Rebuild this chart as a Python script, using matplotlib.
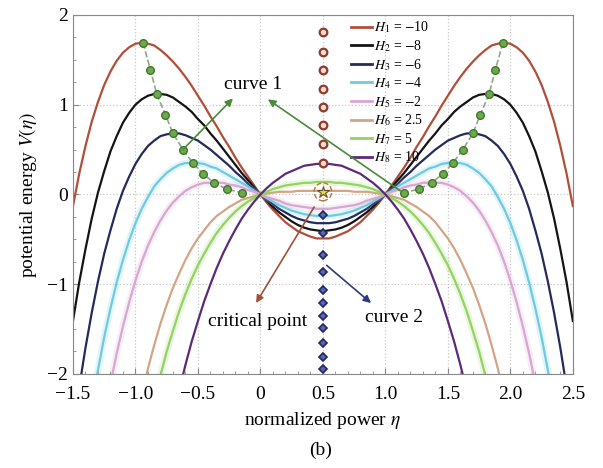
import matplotlib
matplotlib.use("Agg")
import matplotlib.pyplot as plt
from matplotlib.lines import Line2D
from matplotlib.patches import Ellipse

plt.rcParams['font.family'] = ['Liberation Serif', 'DejaVu Serif']
plt.rcParams['mathtext.fontset'] = 'stix'

# normalized power grid
eta = [-1.50, -1.45, -1.40, -1.35, -1.30, -1.25, -1.20, -1.15, -1.10, -1.05,
       -1.00, -0.95, -0.90, -0.85, -0.80, -0.75, -0.70, -0.65, -0.60, -0.55,
       -0.50, -0.45, -0.40, -0.35, -0.30, -0.25, -0.20, -0.15, -0.10, -0.05,
       0.00, 0.05, 0.10, 0.15, 0.20, 0.25, 0.30, 0.35, 0.40, 0.45,
       0.50,
       0.55, 0.60, 0.65, 0.70, 0.75, 0.80, 0.85, 0.90, 0.95, 1.00,
       1.05, 1.10, 1.15, 1.20, 1.25, 1.30, 1.35, 1.40, 1.45, 1.50,
       1.55, 1.60, 1.65, 1.70, 1.75, 1.80, 1.85, 1.90, 1.95, 2.00,
       2.05, 2.10, 2.15, 2.20, 2.25, 2.30, 2.35, 2.40, 2.45, 2.50]

# potential energy V(eta) for each H
v_h1 = [-0.13, 0.23, 0.54, 0.81, 1.03, 1.22, 1.37, 1.49, 1.58, 1.64,
        1.68, 1.69, 1.68, 1.66, 1.61, 1.55, 1.48, 1.40, 1.31, 1.21,
        1.10, 0.99, 0.87, 0.76, 0.64, 0.53, 0.41, 0.30, 0.20, 0.10,
        0.00, -0.09, -0.17, -0.24, -0.31, -0.36, -0.41, -0.44, -0.47, -0.49,
        -0.49,
        -0.49, -0.47, -0.44, -0.41, -0.36, -0.31, -0.24, -0.17, -0.09, 0.00,
        0.10, 0.20, 0.30, 0.41, 0.53, 0.64, 0.76, 0.87, 0.99, 1.10,
        1.21, 1.31, 1.40, 1.48, 1.55, 1.61, 1.66, 1.68, 1.69, 1.68,
        1.64, 1.58, 1.49, 1.37, 1.22, 1.03, 0.81, 0.54, 0.23, -0.13]
v_h2 = [-1.41, -0.98, -0.61, -0.27, 0.02, 0.26, 0.48, 0.65, 0.80, 0.91,
        1.00, 1.06, 1.10, 1.12, 1.12, 1.11, 1.08, 1.03, 0.98, 0.92,
        0.84, 0.77, 0.68, 0.60, 0.51, 0.42, 0.33, 0.24, 0.16, 0.08,
        0.00, -0.07, -0.14, -0.20, -0.25, -0.30, -0.34, -0.37, -0.39, -0.40,
        -0.41,
        -0.40, -0.39, -0.37, -0.34, -0.30, -0.25, -0.20, -0.14, -0.07, 0.00,
        0.08, 0.16, 0.24, 0.33, 0.42, 0.51, 0.60, 0.68, 0.77, 0.84,
        0.92, 0.98, 1.03, 1.08, 1.11, 1.12, 1.12, 1.10, 1.06, 1.00,
        0.91, 0.80, 0.65, 0.48, 0.26, 0.02, -0.27, -0.61, -0.98, -1.41]
v_h3 = [-2.64, -2.15, -1.71, -1.32, -0.97, -0.66, -0.40, -0.16, 0.04, 0.20,
        0.34, 0.45, 0.54, 0.60, 0.65, 0.67, 0.68, 0.68, 0.66, 0.63,
        0.60, 0.55, 0.50, 0.44, 0.38, 0.32, 0.25, 0.19, 0.12, 0.06,
        0.00, -0.06, -0.11, -0.16, -0.20, -0.24, -0.27, -0.29, -0.31, -0.32,
        -0.32,
        -0.32, -0.31, -0.29, -0.27, -0.24, -0.20, -0.16, -0.11, -0.06, 0.00,
        0.06, 0.12, 0.19, 0.25, 0.32, 0.38, 0.44, 0.50, 0.55, 0.60,
        0.63, 0.66, 0.68, 0.68, 0.67, 0.65, 0.60, 0.54, 0.45, 0.34,
        0.20, 0.04, -0.16, -0.40, -0.66, -0.97, -1.32, -1.71, -2.15, -2.64]
v_h4 = [-3.88, -3.33, -2.82, -2.37, -1.96, -1.59, -1.27, -0.98, -0.73, -0.51,
        -0.32, -0.16, -0.03, 0.09, 0.17, 0.24, 0.29, 0.33, 0.35, 0.35,
        0.35, 0.34, 0.31, 0.29, 0.25, 0.21, 0.17, 0.13, 0.09, 0.04,
        0.00, -0.04, -0.08, -0.12, -0.15, -0.18, -0.20, -0.22, -0.23, -0.24,
        -0.24,
        -0.24, -0.23, -0.22, -0.20, -0.18, -0.15, -0.12, -0.08, -0.04, 0.00,
        0.04, 0.09, 0.13, 0.17, 0.21, 0.25, 0.29, 0.31, 0.34, 0.35,
        0.35, 0.35, 0.33, 0.29, 0.24, 0.17, 0.09, -0.03, -0.16, -0.32,
        -0.51, -0.73, -0.98, -1.27, -1.59, -1.96, -2.37, -2.82, -3.33, -3.88]
v_h5 = [-5.08, -4.46, -3.90, -3.38, -2.92, -2.49, -2.11, -1.77, -1.47, -1.20,
        -0.96, -0.75, -0.57, -0.42, -0.29, -0.18, -0.09, -0.02, 0.04, 0.08,
        0.11, 0.13, 0.13, 0.13, 0.13, 0.11, 0.10, 0.08, 0.05, 0.03,
        0.00, -0.03, -0.05, -0.07, -0.10, -0.12, -0.13, -0.14, -0.15, -0.16,
        -0.16,
        -0.16, -0.15, -0.14, -0.13, -0.12, -0.10, -0.07, -0.05, -0.03, 0.00,
        0.03, 0.05, 0.08, 0.10, 0.11, 0.13, 0.13, 0.13, 0.13, 0.11,
        0.08, 0.04, -0.02, -0.09, -0.18, -0.29, -0.42, -0.57, -0.75, -0.96,
        -1.20, -1.47, -1.77, -2.11, -2.49, -2.92, -3.38, -3.90, -4.46, -5.08]
v_h6 = [-8.08, -7.31, -6.59, -5.92, -5.31, -4.74, -4.22, -3.75, -3.32, -2.92,
        -2.56, -2.24, -1.94, -1.68, -1.44, -1.23, -1.04, -0.88, -0.73, -0.60,
        -0.49, -0.40, -0.31, -0.24, -0.19, -0.14, -0.10, -0.06, -0.04, -0.02,
        0.00, 0.01, 0.02, 0.03, 0.03, 0.03, 0.04, 0.04, 0.04, 0.04,
        0.04,
        0.04, 0.04, 0.04, 0.04, 0.03, 0.03, 0.03, 0.02, 0.01, 0.00,
        -0.02, -0.04, -0.06, -0.10, -0.14, -0.19, -0.24, -0.31, -0.40, -0.49,
        -0.60, -0.73, -0.88, -1.04, -1.23, -1.44, -1.68, -1.94, -2.24, -2.56,
        -2.92, -3.32, -3.75, -4.22, -4.74, -5.31, -5.92, -6.59, -7.31, -8.08]
v_h7 = [-9.58, -8.73, -7.93, -7.19, -6.50, -5.87, -5.28, -4.74, -4.24, -3.78,
        -3.36, -2.98, -2.63, -2.31, -2.02, -1.75, -1.52, -1.30, -1.11, -0.94,
        -0.79, -0.66, -0.54, -0.43, -0.34, -0.26, -0.19, -0.13, -0.08, -0.04,
        0.00, 0.03, 0.06, 0.08, 0.10, 0.11, 0.12, 0.13, 0.13, 0.14,
        0.14,
        0.14, 0.13, 0.13, 0.12, 0.11, 0.10, 0.08, 0.06, 0.03, 0.00,
        -0.04, -0.08, -0.13, -0.19, -0.26, -0.34, -0.43, -0.54, -0.66, -0.79,
        -0.94, -1.11, -1.30, -1.52, -1.75, -2.02, -2.31, -2.63, -2.98, -3.36,
        -3.78, -4.24, -4.74, -5.28, -5.87, -6.50, -7.19, -7.93, -8.73, -9.58]
v_h8 = [-12.66, -11.64, -10.69, -9.79, -8.96, -8.17, -7.45, -6.77, -6.13, -5.55,
        -5.00, -4.50, -4.03, -3.60, -3.20, -2.83, -2.49, -2.18, -1.90, -1.64,
        -1.41, -1.19, -1.00, -0.82, -0.66, -0.52, -0.39, -0.27, -0.17, -0.08,
        0.00, 0.07, 0.13, 0.18, 0.23, 0.26, 0.29, 0.32, 0.33, 0.34,
        0.34,
        0.34, 0.33, 0.32, 0.29, 0.26, 0.23, 0.18, 0.13, 0.07, 0.00,
        -0.08, -0.17, -0.27, -0.39, -0.52, -0.66, -0.82, -1.00, -1.19, -1.41,
        -1.64, -1.90, -2.18, -2.49, -2.83, -3.20, -3.60, -4.03, -4.50, -5.00,
        -5.55, -6.13, -6.77, -7.45, -8.17, -8.96, -9.79, -10.69, -11.64, -12.66]

labels = [r'$H_1$ = $-$10', r'$H_2$ = $-$8', r'$H_3$ = $-$6', r'$H_4$ = $-$4',
          r'$H_5$ = $-$2', r'$H_6$ = 2.5', r'$H_7$ = 5', r'$H_8$ = 10']
colors = ['#b14e3a', '#141414', '#252a5c', '#6ccbe0',
          '#d8a6d0', '#d4a484', '#93d35f', '#5c2a78']

# curve 1: maxima of the potential (left and right branches)
peak_eta_l = [-0.94, -0.88, -0.83, -0.76, -0.70, -0.62, -0.54, -0.46, -0.37, -0.27, -0.15]
peak_eta_r = [1.94, 1.88, 1.83, 1.76, 1.70, 1.62, 1.54, 1.46, 1.37, 1.27, 1.15]
peak_v = [1.69, 1.39, 1.12, 0.89, 0.68, 0.50, 0.35, 0.23, 0.13, 0.06, 0.02]

# values at eta = 0.5
top_v = [0.35, 0.56, 0.77, 0.98, 1.18, 1.39, 1.59, 1.81]
curve2_v = [-0.23, -0.43, -0.67, -0.86, -1.06, -1.21, -1.36, -1.49, -1.66, -1.81, -1.94]
crit_eta, crit_v = 0.5, 0.03

fig = plt.figure(figsize=(6.03, 4.68), dpi=100)
fig.subplots_adjust(left=0.121, right=0.950, top=0.968, bottom=0.201)
ax = fig.add_subplot(111)

series = [v_h1, v_h2, v_h3, v_h4, v_h5, v_h6, v_h7, v_h8]
for v, c in zip(series, colors):
    if c in ('#6ccbe0', '#93d35f', '#d8a6d0'):
        # soft halo on the light colours
        ax.plot(eta, v, color=c, lw=5, alpha=0.18, solid_capstyle='round')
    ax.plot(eta, v, color=c, lw=1.6)

# locus of maxima
for pe in (peak_eta_l, peak_eta_r):
    ax.plot(pe, peak_v, ls='--', color='#8fa88a', lw=1.2, zorder=4)
    ax.plot(pe, peak_v, ls='none', marker='o', ms=5.5, mfc='#6fa84c',
            mec='#3d7a2a', mew=1.0, zorder=5)

# markers along eta = 0.5
ax.plot([0.5] * len(top_v), top_v, ls='none', marker='o', ms=5.5,
        mfc='#f3ddd3', mec='#8e3b2c', mew=1.6, zorder=5)
ax.plot([0.5] * len(curve2_v), curve2_v, ls='none', marker='D', ms=4,
        mfc='#5a68b0', mec='#1f2766', mew=1.2, zorder=5)

# critical point
ax.plot([crit_eta], [crit_v], marker='*', ms=9, mfc='#e8d040', mec='#6a5020',
        mew=0.8, zorder=6)
ax.add_patch(Ellipse((crit_eta, crit_v), 0.14, 0.2, fill=False,
                     ec='#c0703a', ls='--', lw=1.0, zorder=6))

# annotations
arrow = dict(arrowstyle='-|>', lw=1.2, mutation_scale=11, shrinkA=0, shrinkB=0)
ax.annotate('', xy=(-0.22, 1.07), xytext=(-0.62, 0.50),
            arrowprops=dict(arrow, color='#4a8a3a'), zorder=7)
ax.annotate('', xy=(0.06, 1.06), xytext=(1.12, 0.04),
            arrowprops=dict(arrow, color='#4a8a3a'), zorder=7)
ax.text(-0.06, 1.23, 'curve 1', fontsize=14, ha='center', va='center')

ax.annotate('', xy=(-0.035, -1.21), xytext=(0.43, -0.14),
            arrowprops=dict(arrow, color='#a0503a'), zorder=7)
ax.text(-0.02, -1.42, 'critical point', fontsize=14, ha='center', va='center')

ax.annotate('', xy=(0.885, -1.21), xytext=(0.53, -0.79),
            arrowprops=dict(arrow, color='#2a3a7a'), zorder=7)
ax.text(1.07, -1.37, 'curve 2', fontsize=14, ha='center', va='center')

ax.set_xlim(-1.5, 2.5)
ax.set_ylim(-2, 2)
ax.set_xticks([-1.5, -1.0, -0.5, 0, 0.5, 1.0, 1.5, 2.0, 2.5])
ax.set_xticklabels(['\u22121.5', '\u22121.0', '\u22120.5', '0', '0.5', '1.0', '1.5', '2.0', '2.5'])
ax.set_xticks([x / 10 for x in range(-15, 26)], minor=True)
ax.set_yticks([-2, -1, 0, 1, 2])
ax.set_yticks([y / 4 for y in range(-8, 9)], minor=True)
ax.tick_params(which='both', direction='in', colors='#888888', labelcolor='black',
               labelsize=14)
ax.tick_params(which='major', length=4)
ax.tick_params(which='minor', length=2.5)
ax.tick_params(axis='x', which='major', pad=9)
ax.grid(True, which='major', ls=':', color='#c8c8c8', lw=0.9)
for s in ax.spines.values():
    s.set_color('#888888')

ax.set_xlabel(r'normalized power $\eta$', fontsize=14, labelpad=5)
ax.set_ylabel(r'potential energy $V(\eta)$', fontsize=14, labelpad=6)

handles = [Line2D([], [], color=c, lw=2) for c in colors]
ax.legend(handles, labels, loc='upper left', bbox_to_anchor=(0.55, 0.995),
          frameon=False, fontsize=10, handlelength=1.5, handletextpad=0.2,
          labelspacing=0.2, borderpad=0.2, borderaxespad=0)

fig.text(0.531, 0.038, '(b)', fontsize=14, ha='center', va='center')

fig.savefig('out.png', dpi=100)
